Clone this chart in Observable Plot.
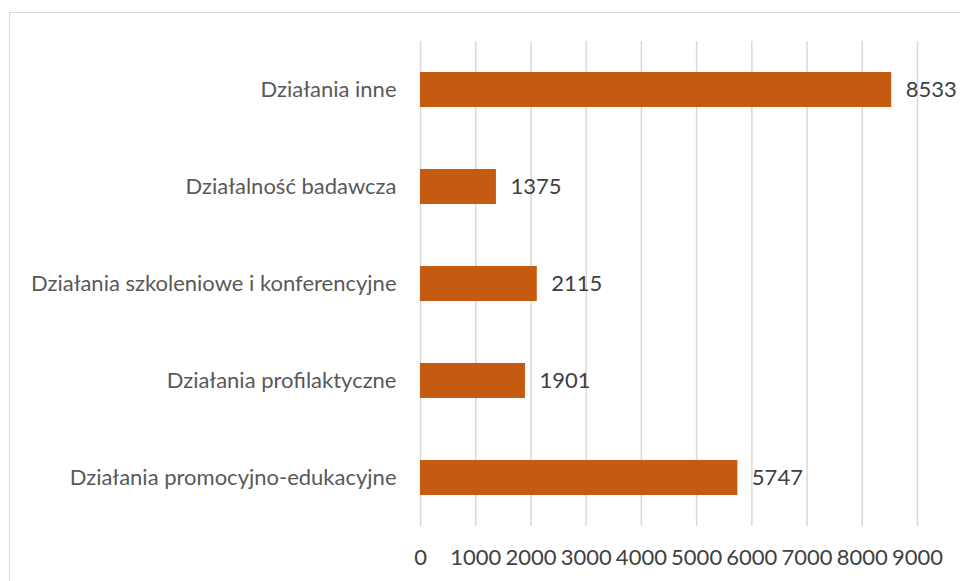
<!DOCTYPE html>
<html>
<head>
<meta charset="utf-8">
<script src="https://cdn.jsdelivr.net/npm/d3@7"></script>
<script src="https://cdn.jsdelivr.net/npm/@observablehq/plot@0.6"></script>
<style>
  html, body { margin: 0; padding: 0; background: #fff; overflow: hidden; }
  #wrap { position: relative; width: 960px; height: 581px; }
  #border { position: absolute; left: 9px; top: 12px; width: 1000px; height: 1000px; border: 1.5px solid #d9d9d9; box-sizing: border-box; }
  #chart { position: absolute; left: 0; top: 0; }
</style>
</head>
<body>
<div id="wrap">
  <div id="border"></div>
  <div id="chart"></div>
</div>
<script>
const categories = [
  "Działania inne",
  "Działalność badawcza",
  "Działania szkoleniowe i konferencyjne",
  "Działania profilaktyczne",
  "Działania promocyjno-edukacyjne"
];
const values = [8533, 1375, 2115, 1901, 5747];
const xTicks = [0, 1000, 2000, 3000, 4000, 5000, 6000, 7000, 8000, 9000];

const data = categories.map((c, i) => ({category: c, value: values[i]}));

const plot = Plot.plot({
  width: 960,
  height: 581,
  marginLeft: 420,
  marginRight: 43,
  marginTop: 41,
  marginBottom: 55,
  style: {fontFamily: "Lato, sans-serif", fontSize: "22px", background: "transparent"},
  x: {domain: [0, 9000], ticks: xTicks},
  y: {domain: categories, paddingInner: 0.64, paddingOuter: 0.32},
  marks: [
    Plot.gridX(xTicks, {stroke: "#d9d9d9", strokeWidth: 1.5, strokeOpacity: 1}),
    Plot.barX(data, {x: "value", y: "category", fill: "#c55a11"}),
    Plot.text(data, {x: "value", y: "category", text: d => String(d.value), dx: 14, textAnchor: "start", fill: "#404040", fontSize: 22}),
    Plot.axisX(xTicks, {tickSize: 0, tickPadding: 23, tickFormat: d => String(d), fill: "#404040", fontSize: 22, label: null}),
    Plot.axisY({tickSize: 0, tickPadding: 24, fill: "#595959", fontSize: 22, label: null})
  ]
});
document.getElementById("chart").appendChild(plot);
</script>
</body>
</html>
